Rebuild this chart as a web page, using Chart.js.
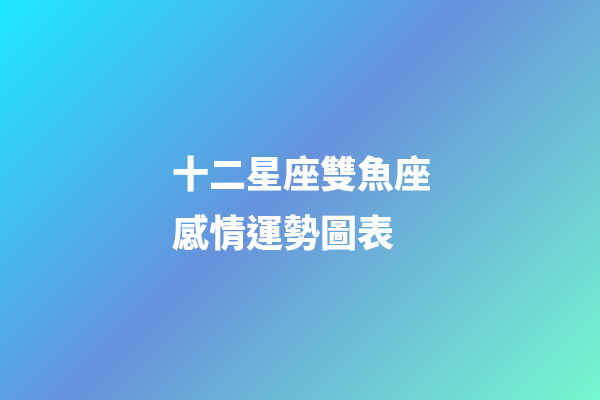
<!DOCTYPE html>
<html lang="zh-Hant">

<head>
    <meta charset="UTF-8">
    <title>十二星座雙魚座感情運勢圖表</title>
    <script src="https://cdn.jsdelivr.net/npm/chart.js"></script>
    <style>
        html, body { margin: 0; padding: 0; background: #5fa0e0; }
        canvas { display: block; }
    </style>
</head>

<body>
    <canvas id="cover" width="600" height="400"></canvas>

    <script>
        // the picture holds no series, only the title card
        const titleLines = ["十二星座雙魚座", "感情運勢圖表"];
        const labels = [];
        const values = [];

        // 135deg diagonal gradient behind everything
        const gradientBackground = {
            id: "gradientBackground",
            beforeDraw(chart) {
                const { ctx, width, height } = chart;
                const cx = width / 2, cy = height / 2;
                const half = (width + height) / 4;
                const g = ctx.createLinearGradient(cx - half, cy - half, cx + half, cy + half);
                g.addColorStop(0, "#1de9fd");
                g.addColorStop(0.47, "#6792dc");
                g.addColorStop(1, "#74f8ce");
                ctx.save();
                ctx.fillStyle = g;
                ctx.fillRect(0, 0, width, height);
                ctx.restore();
            }
        };

        new Chart(document.getElementById("cover"), {
            type: "bar",
            data: {
                labels: labels,
                datasets: [{ data: values }]
            },
            options: {
                responsive: false,
                animation: false,
                layout: { padding: { left: 172, top: 0 } },
                plugins: {
                    legend: { display: false },
                    tooltip: { enabled: false },
                    title: {
                        display: true,
                        text: titleLines,
                        align: "start",
                        color: "#ffffff",
                        padding: { top: 144, bottom: 0 },
                        font: {
                            family: "'Noto Sans CJK TC', 'Noto Sans CJK SC', sans-serif",
                            size: 37,
                            weight: "900",
                            lineHeight: 1.6
                        }
                    }
                },
                scales: {
                    x: { display: false },
                    y: { display: false }
                }
            },
            plugins: [gradientBackground]
        });
    </script>
</body>

</html>
